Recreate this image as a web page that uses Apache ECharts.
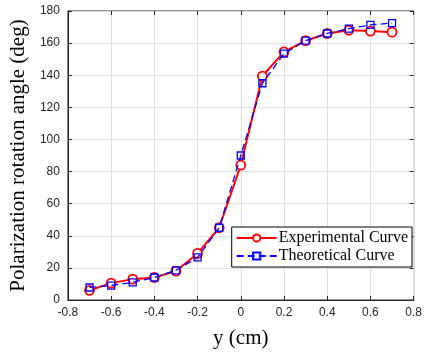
<!DOCTYPE html>
<html>
<head>
<meta charset="utf-8">
<script src="https://cdn.jsdelivr.net/npm/echarts@6/dist/echarts.min.js"></script>
<style>
  html, body { margin: 0; padding: 0; background: #fff; }
  #chart { width: 425px; height: 354px; }
</style>
</head>
<body>
<div id="chart"></div>
<script>
// positions along y (cm)
const yPos = [-0.7, -0.6, -0.5, -0.4, -0.3, -0.2, -0.1, 0, 0.1, 0.2, 0.3, 0.4, 0.5, 0.6, 0.7];
// rotation angle (deg)
const experimental = [6, 10.5, 13, 14, 18, 29, 45, 84, 139.5, 154.5, 161.5, 166, 168, 167.5, 166.8];
const theoretical = [7.8, 9, 11, 14, 18.5, 26.5, 45, 90, 135, 153.5, 161.5, 166, 169, 171.3, 172.5];

const pair = (xs, ys) => xs.map((x, i) => [x, ys[i]]);

const chart = echarts.init(document.getElementById("chart"));

const tickColor = "#262626";
const gridLine = { show: true, lineStyle: { color: "#dedede", width: 1 } };

chart.setOption({
  backgroundColor: "#fff",
  animation: false,
  grid: {
    left: 65, right: 10, top: 11, bottom: 53,
    show: true, borderColor: tickColor, borderWidth: 1
  },
  legend: {
    right: 13, top: 227,
    orient: "vertical",
    backgroundColor: "#fff",
    borderColor: "#000",
    borderWidth: 1,
    borderRadius: 0,
    padding: [3, 4, 3, 4],
    itemGap: 2,
    itemWidth: 40,
    itemHeight: 9,
    textStyle: { fontFamily: "Liberation Serif", fontSize: 16, color: "#000", padding: [0, 0, 0, -3] },
    data: ["Experimental Curve", "Theoretical Curve"]
  },
  xAxis: [{
    type: "value",
    min: -0.8, max: 0.8, interval: 0.2,
    name: "y (cm)",
    nameLocation: "middle",
    nameGap: 28,
    nameTextStyle: { fontFamily: "Liberation Serif", fontSize: 21, color: "#000" },
    axisLine: { show: true, onZero: false, lineStyle: { color: tickColor } },
    axisTick: { show: true, inside: true, length: 4, lineStyle: { color: tickColor } },
    axisLabel: { color: tickColor, fontFamily: "Liberation Sans", fontSize: 12, margin: 7,
      formatter: v => String(Math.round(v * 10) / 10) },
    splitLine: gridLine
  }, {
    type: "value", position: "top",
    min: -0.8, max: 0.8, interval: 0.2,
    axisLine: { show: false, onZero: false },
    axisTick: { show: true, inside: true, length: 4, lineStyle: { color: tickColor } },
    axisLabel: { show: false },
    splitLine: { show: false }
  }],
  yAxis: [{
    type: "value",
    min: 0, max: 180, interval: 20,
    name: "Polarization rotation angle (deg)",
    nameLocation: "middle",
    nameGap: 38,
    nameTextStyle: { fontFamily: "Liberation Serif", fontSize: 21, color: "#000" },
    axisLine: { show: true, onZero: false, lineStyle: { color: tickColor } },
    axisTick: { show: true, inside: true, length: 4, lineStyle: { color: tickColor } },
    axisLabel: { color: tickColor, fontFamily: "Liberation Sans", fontSize: 12, margin: 8 },
    splitLine: gridLine
  }, {
    type: "value", position: "right",
    min: 0, max: 180, interval: 20,
    axisLine: { show: false, onZero: false },
    axisTick: { show: true, inside: true, length: 4, lineStyle: { color: tickColor } },
    axisLabel: { show: false },
    splitLine: { show: false }
  }],
  series: [
    {
      name: "Experimental Curve",
      type: "line",
      data: pair(yPos, experimental),
      symbol: "circle",
      symbolSize: 9,
      showAllSymbol: true,
      itemStyle: { color: "#fff", borderColor: "#ff0000", borderWidth: 1.8 },
      lineStyle: { color: "#ff0000", width: 2 },
      z: 3
    },
    {
      name: "Theoretical Curve",
      type: "line",
      data: pair(yPos, theoretical),
      symbol: "rect",
      symbolSize: 7,
      showAllSymbol: true,
      itemStyle: { color: "transparent", borderColor: "#0000ff", borderWidth: 1.3 },
      lineStyle: { color: "#0000ff", width: 1.3, type: [7, 4] },
      z: 4
    }
  ]
});
</script>
</body>
</html>
